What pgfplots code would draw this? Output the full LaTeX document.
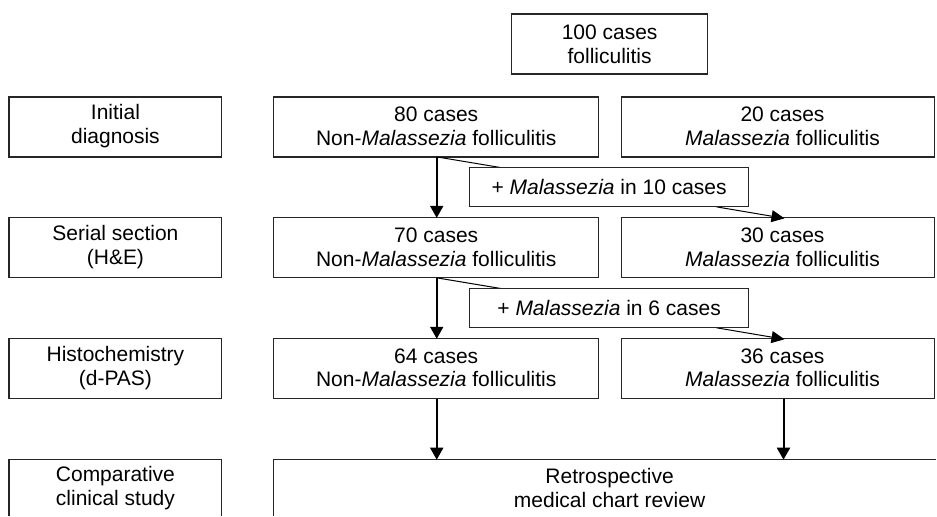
\documentclass[border=0pt]{standalone}
\usepackage{fontspec}
\setmainfont{Liberation Sans}
\usepackage{pgfplots}
\pgfplotsset{compat=1.18}
\usetikzlibrary{arrows.meta}
\tikzset{bx/.style={draw=black!85,line width=1.2pt,fill=white},
  ar/.style={line width=2pt,-{Triangle[width=13pt,length=12pt]}},
  dg/.style={line width=1pt},
  da/.style={line width=1pt,-{Triangle[width=12pt,length=13pt]}},
  tx/.style={font=\fontsize{21}{24}\selectfont,align=center,inner sep=0pt}}
\begin{document}
\begin{tikzpicture}[x=1pt,y=1pt]
\begin{axis}[width=937pt,height=516pt,scale only axis,
  xmin=0,xmax=937,ymin=0,ymax=516,y dir=reverse,
  axis lines=none,clip=false]
\path (axis cs:0,0) rectangle (axis cs:937,516);
% boxes
\draw[bx] (axis cs:512,14) rectangle (axis cs:708,74);
\draw[bx] (axis cs:9,97) rectangle (axis cs:222,157);
\draw[bx] (axis cs:274,97) rectangle (axis cs:599,157);
\draw[bx] (axis cs:622,97) rectangle (axis cs:935,157);
\draw[bx] (axis cs:9,218) rectangle (axis cs:222,278);
\draw[bx] (axis cs:274,218) rectangle (axis cs:599,278);
\draw[bx] (axis cs:622,218) rectangle (axis cs:935,278);
\draw[bx] (axis cs:9,339) rectangle (axis cs:222,399);
\draw[bx] (axis cs:274,339) rectangle (axis cs:599,399);
\draw[bx] (axis cs:622,339) rectangle (axis cs:935,399);
\draw[draw=black!85,line width=1.2pt] (axis cs:9,516) -- (axis cs:9,460) -- (axis cs:222,460) -- (axis cs:222,516);
\draw[draw=black!85,line width=1.2pt] (axis cs:274,516) -- (axis cs:274,460) -- (axis cs:937,460);
% arrows
\draw[ar] (axis cs:437,157) -- (axis cs:437,218);
\draw[ar] (axis cs:437,278) -- (axis cs:437,339);
\draw[ar] (axis cs:437,399) -- (axis cs:437,460);
\draw[ar] (axis cs:784,399) -- (axis cs:784,460);
\draw[dg] (axis cs:437,157) -- (axis cs:503,168);
\draw[da] (axis cs:717,207) -- (axis cs:785,218.5);
\draw[dg] (axis cs:437,278) -- (axis cs:503,289);
\draw[da] (axis cs:717,328) -- (axis cs:785,339.5);
\draw[bx] (axis cs:470,168) rectangle (axis cs:749,207);
\draw[bx] (axis cs:470,289) rectangle (axis cs:749,328);
% texts
\node[tx] at (axis cs:610,44) {100 cases\\folliculitis};
\node[tx] at (axis cs:115.5,126) {Initial\\diagnosis};
\node[tx] at (axis cs:436.5,126) {80 cases\\Non-\textit{Malassezia} folliculitis};
\node[tx] at (axis cs:783,126) {20 cases\\\textit{Malassezia} folliculitis};
\node[tx] at (axis cs:609.5,187.5) {+ \textit{Malassezia} in 10 cases};
\node[tx] at (axis cs:115.5,247) {Serial section\\(H\&E)};
\node[tx] at (axis cs:436.5,247) {70 cases\\Non-\textit{Malassezia} folliculitis};
\node[tx] at (axis cs:783,247) {30 cases\\\textit{Malassezia} folliculitis};
\node[tx] at (axis cs:609.5,308.5) {+ \textit{Malassezia} in 6 cases};
\node[tx] at (axis cs:115.5,368) {Histochemistry\\(d-PAS)};
\node[tx] at (axis cs:436.5,368) {64 cases\\Non-\textit{Malassezia} folliculitis};
\node[tx] at (axis cs:783,368) {36 cases\\\textit{Malassezia} folliculitis};
\node[tx] at (axis cs:115.5,488) {Comparative\\clinical study};
\node[tx] at (axis cs:610,488) {Retrospective\\medical chart review};
\end{axis}
\end{tikzpicture}
\end{document}
